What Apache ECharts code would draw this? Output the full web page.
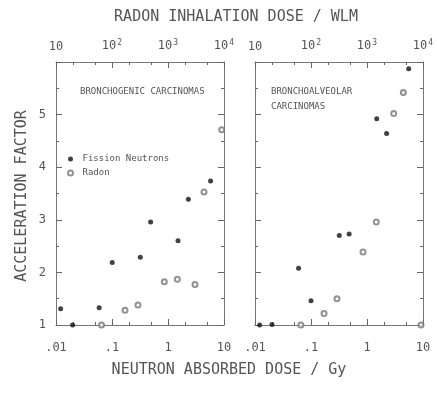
<!DOCTYPE html>
<html>
<head>
<meta charset="utf-8">
<script src="https://cdn.jsdelivr.net/npm/echarts@6/dist/echarts.min.js"></script>
<style>
  html, body { margin: 0; padding: 0; background: #fff; }
  #chart { width: 437px; height: 398px; }
</style>
</head>
<body>
<div id="chart"></div>
<script>
// ticks
const neutronMajor = [0.01, 0.1, 1, 10];
const neutronMinor = [0.02, 0.05, 0.2, 0.5, 2, 5];
const neutronLabels = ['.01', '.1', '1', '10'];
const radonMajor = [10, 100, 1000, 10000];
const radonMinor = [20, 50, 200, 500, 2000, 5000];
const yTicks = [1, 2, 3, 4, 5];

// bronchogenic carcinomas  [dose, acceleration factor]
const bronchoNeutron = [
  [0.0121, 1.31], [0.0198, 1.0], [0.059, 1.33], [0.101, 2.19], [0.32, 2.29],
  [0.49, 2.96], [1.51, 2.6], [2.31, 3.39], [5.76, 3.74]
];
const bronchoRadon = [
  [65, 1.0], [171, 1.28], [291, 1.38], [859, 1.82], [1466, 1.87],
  [3034, 1.77], [4395, 3.53], [9100, 4.71]
];
// bronchoalveolar carcinomas
const alveoNeutron = [
  [0.0121, 1.0], [0.0201, 1.01], [0.06, 2.08], [0.1, 1.46], [0.32, 2.7],
  [0.48, 2.73], [1.49, 4.92], [2.24, 4.64], [5.56, 5.87]
];
const alveoRadon = [
  [66, 1.0], [171, 1.22], [291, 1.5], [849, 2.39], [1466, 2.96],
  [3000, 5.02], [4450, 5.42], [9200, 1.0]
];

const chart = echarts.init(document.getElementById('chart'));
const FONT = 'DejaVu Sans Mono';
const TXT = '#555';
const LINE = '#777';
const TICK = '#666';

function xAxes(gi) {
  const base = { type: 'log', gridIndex: gi, splitLine: { show: false } };
  return [
    Object.assign({}, base, {
      min: 0.01, max: 10, position: 'bottom',
      axisLine: { show: true, lineStyle: { color: LINE, width: 1 } },
      axisTick: { show: true, inside: true, length: 6, customValues: neutronMajor, lineStyle: { color: TICK, width: 1 } },
      axisLabel: {
        show: true, customValues: neutronMajor, margin: 17,
        color: TXT, fontFamily: FONT, fontSize: 12,
        formatter: v => neutronLabels[neutronMajor.findIndex(t => Math.abs(t - v) < t * 1e-6)] || ''
      }
    }),
    Object.assign({}, base, {
      min: 0.01, max: 10, position: 'bottom',
      axisLine: { show: false },
      axisTick: { show: true, inside: true, length: 3, customValues: neutronMinor, lineStyle: { color: TICK, width: 1 } },
      axisLabel: { show: false }
    }),
    Object.assign({}, base, {
      min: 10, max: 10000, position: 'top',
      axisLine: { show: true, lineStyle: { color: LINE, width: 1 } },
      axisTick: { show: true, inside: true, length: 6, customValues: radonMajor, lineStyle: { color: TICK, width: 1 } },
      axisLabel: {
        show: true, customValues: radonMajor, margin: 9,
        color: TXT, fontFamily: FONT, fontSize: 12,
        formatter: v => {
          const e = Math.round(Math.log10(v));
          return e === 1 ? '10' : '10{s|' + e + '}';
        },
        rich: { s: { fontSize: 8, fontFamily: FONT, color: TXT, verticalAlign: 'top', padding: [0, 0, 6, 1] } }
      }
    }),
    Object.assign({}, base, {
      min: 10, max: 10000, position: 'top',
      axisLine: { show: false },
      axisTick: { show: true, inside: true, length: 3, customValues: radonMinor, lineStyle: { color: TICK, width: 1 } },
      axisLabel: { show: false }
    })
  ];
}

function yAxes(gi, labels) {
  const base = {
    type: 'value', gridIndex: gi, min: 1, max: 6, interval: 1,
    splitLine: { show: false },
    axisLine: { show: true, lineStyle: { color: LINE, width: 1 } },
    axisTick: { show: true, inside: true, length: 6, lineStyle: { color: TICK, width: 1 } },
    minorTick: { show: true, splitNumber: 2, length: 3, lineStyle: { color: TICK, width: 1 } }
  };
  return [
    Object.assign({}, base, {
      position: 'left',
      axisLabel: {
        show: labels, margin: 10, color: TXT, fontFamily: FONT, fontSize: 12,
        formatter: v => (yTicks.indexOf(v) >= 0 ? String(v) : '')
      }
    }),
    Object.assign({}, base, { position: 'right', axisLabel: { show: false } })
  ];
}

const dotStyle = { symbol: 'circle', symbolSize: 5, itemStyle: { color: '#111' } };
const ringStyle = { symbol: 'emptyCircle', symbolSize: 5, itemStyle: { color: '#777', borderWidth: 1 } };

const option = {
  animation: false,
  grid: [
    { left: 56, right: 213, top: 62, bottom: 73 },
    { left: 255, right: 14, top: 62, bottom: 73 }
  ],
  xAxis: xAxes(0).concat(xAxes(1)),
  yAxis: yAxes(0, true).concat(yAxes(1, false)),
  legend: {
    left: 62, top: 148, orient: 'vertical',
    selectedMode: false,
    itemWidth: 14, itemHeight: 5, itemGap: 2,
    data: ['Fission Neutrons', 'Radon'],
    textStyle: { fontFamily: FONT, fontSize: 9, color: TXT, lineHeight: 12 }
  },
  series: [
    Object.assign({ type: 'scatter', name: 'Fission Neutrons', xAxisIndex: 0, yAxisIndex: 0, data: bronchoNeutron }, dotStyle),
    Object.assign({ type: 'scatter', name: 'Radon', xAxisIndex: 2, yAxisIndex: 0, data: bronchoRadon }, ringStyle),
    Object.assign({ type: 'scatter', name: 'Fission Neutrons', xAxisIndex: 4, yAxisIndex: 2, data: alveoNeutron }, dotStyle),
    Object.assign({ type: 'scatter', name: 'Radon', xAxisIndex: 6, yAxisIndex: 2, data: alveoRadon }, ringStyle)
  ],
  graphic: [
    { type: 'text', x: 236, y: 17, style: { text: 'RADON INHALATION DOSE / WLM', font: '15px ' + FONT, fill: TXT, align: 'center', verticalAlign: 'middle' } },
    { type: 'text', x: 229, y: 370, style: { text: 'NEUTRON ABSORBED DOSE / Gy', font: '15px ' + FONT, fill: TXT, align: 'center', verticalAlign: 'middle' } },
    { type: 'text', x: 22, y: 196, rotation: Math.PI / 2, style: { text: 'ACCELERATION FACTOR', font: '15px ' + FONT, fill: TXT, align: 'center', verticalAlign: 'middle' } },
    { type: 'text', x: 80, y: 92, style: { text: 'BRONCHOGENIC CARCINOMAS', font: '9px ' + FONT, fill: TXT, align: 'left', verticalAlign: 'middle' } },
    { type: 'text', x: 271, y: 92, style: { text: 'BRONCHOALVEOLAR', font: '9px ' + FONT, fill: TXT, align: 'left', verticalAlign: 'middle' } },
    { type: 'text', x: 271, y: 107, style: { text: 'CARCINOMAS', font: '9px ' + FONT, fill: TXT, align: 'left', verticalAlign: 'middle' } }
  ]
};
chart.setOption(option);
</script>
</body>
</html>
